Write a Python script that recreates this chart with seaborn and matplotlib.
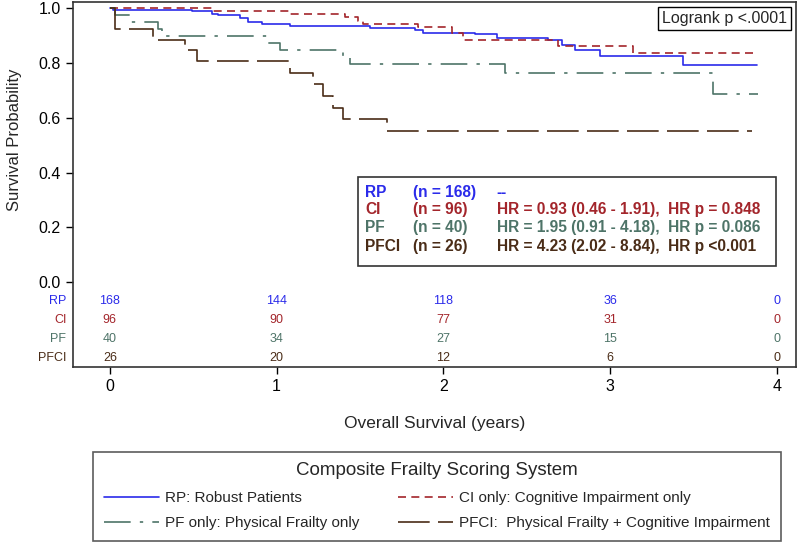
import numpy as np
import pandas as pd
import matplotlib
matplotlib.use('Agg')
import matplotlib.pyplot as plt
import seaborn as sns
from matplotlib.patches import Rectangle

sns.set_style('white')
plt.rcParams['font.family'] = ['Liberation Sans', 'DejaVu Sans']
NARROW = ['Liberation Sans Narrow', 'Liberation Sans', 'DejaVu Sans']

# Kaplan-Meier step curves (years, survival)
rp_t = [0, 0.02, 0.49, 0.61, 0.65, 0.78, 0.83, 0.91, 1.08, 1.56, 1.83, 1.88,
        2.19, 2.32, 2.63, 2.71, 2.79, 2.94, 3.44, 3.88]
rp_s = [1.0, 0.995, 0.989, 0.980, 0.974, 0.966, 0.948, 0.942, 0.936, 0.926,
        0.920, 0.911, 0.904, 0.893, 0.883, 0.867, 0.849, 0.825, 0.792, 0.792]

ci_t = [0, 0.61, 1.08, 1.41, 1.49, 1.52, 1.85, 2.05, 2.12, 2.69, 3.135, 3.86]
ci_s = [1.0, 0.989, 0.977, 0.969, 0.954, 0.942, 0.932, 0.908, 0.883, 0.861,
        0.835, 0.835]

pf_t = [0, 0.03, 0.13, 0.29, 0.31, 0.94, 1.02, 1.40, 1.44, 2.37, 3.62, 3.89]
pf_s = [1.0, 0.975, 0.95, 0.925, 0.90, 0.873, 0.848, 0.822, 0.795, 0.764,
        0.685, 0.685]

pfci_t = [0, 0.03, 0.26, 0.45, 0.52, 1.08, 1.22, 1.28, 1.34, 1.40, 1.66, 3.85]
pfci_s = [1.0, 0.923, 0.885, 0.846, 0.808, 0.765, 0.722, 0.679, 0.636, 0.597,
          0.551, 0.551]

groups = ['RP', 'CI', 'PF', 'PFCI']
legend_labels = ['RP: Robust Patients', 'CI only: Cognitive Impairment only',
                 'PF only: Physical Frailty only',
                 'PFCI:  Physical Frailty + Cognitive Impairment']
colors = ['#2B2BEA', '#A3252B', '#4E7468', '#4A2C17']

risk_times = [0, 1, 2, 3, 4]
at_risk = {'RP': [168, 144, 118, 36, 0],
           'CI': [96, 90, 77, 31, 0],
           'PF': [40, 34, 27, 15, 0],
           'PFCI': [26, 20, 12, 6, 0]}

n_txt = ['(n = 168)', '(n = 96)', '(n = 40)', '(n = 26)']
hr_txt = ['--', 'HR = 0.93 (0.46 - 1.91),  HR p = 0.848',
          'HR = 1.95 (0.91 - 4.18),  HR p = 0.086',
          'HR = 4.23 (2.02 - 8.84),  HR p <0.001']

curves = [(rp_t, rp_s), (ci_t, ci_s), (pf_t, pf_s), (pfci_t, pfci_s)]
styles = ['-', (0, (4.8, 3.2)), (0, (16, 5.5, 2, 5.5)), (0, (19, 5))]

fig = plt.figure(figsize=(8, 5.43), dpi=100)
ax = fig.add_axes([0.091, 0.324, 0.904, 0.672])

handles = []
for g, (t, s), c, ls in zip(groups, curves, colors, styles):
    df = pd.DataFrame({'t': t, 's': s})
    sns.lineplot(data=df, x='t', y='s', ax=ax, color=c, linestyle=ls,
                 drawstyle='steps-post', estimator=None, sort=False, lw=1.2)
    handles.append(ax.lines[-1])

ax.set_xlim(-0.222, 4.115)
ax.set_ylim(-0.31, 1.022)
ax.set_xticks(risk_times)
ax.set_yticks([0, 0.2, 0.4, 0.6, 0.8, 1.0])
ax.set_yticklabels(['0.0', '0.2', '0.4', '0.6', '0.8', '1.0'])
ax.tick_params(axis='both', direction='out', length=5, width=1, labelsize=11.5,
               left=True, bottom=True, colors='black')
for sp in ax.spines.values():
    sp.set_color('#333333')
    sp.set_linewidth(1.2)

ax.set_ylabel('Survival Probability', fontsize=12)
ax.yaxis.set_label_coords(-0.07, 0.622)
ax.set_xlabel('Overall Survival (years)', fontsize=12.5, family=NARROW)
ax.xaxis.set_label_coords(0.5, -0.135)

# number at risk table inside the axes
row_y = [-0.069, -0.139, -0.208, -0.277]
for g, c, y in zip(groups, colors, row_y):
    ax.text(-0.26, y, g, ha='right', va='center', color=c, fontsize=9,
            family=NARROW, clip_on=False)
    for x, n in zip(risk_times, at_risk[g]):
        ax.text(x, y, str(n), ha='center', va='center', color=c, fontsize=9,
                family=NARROW)

# hazard ratio box
ax.add_patch(Rectangle((1.488, 0.058), 2.507, 0.325, fill=False,
                       edgecolor='#333333', lw=1.2))
box_y = [0.328, 0.266, 0.201, 0.131]
for g, c, y, nt, ht in zip(groups, colors, box_y, n_txt, hr_txt):
    ax.text(1.53, y, g, color=c, fontsize=11.2, fontweight='bold', va='center')
    ax.text(1.818, y, nt, color=c, fontsize=11.2, fontweight='bold', va='center')
    ax.text(2.32, y, ht, color=c, fontsize=11.2, fontweight='bold', va='center')

ax.text(0.9875, 0.977, 'Logrank p <.0001', transform=ax.transAxes, ha='right',
        va='top', fontsize=11.5,
        bbox=dict(boxstyle='square,pad=0.25', fc='white', ec='black', lw=1))

order = [0, 2, 1, 3]
leg = fig.legend([handles[i] for i in order], [legend_labels[i] for i in order],
                 ncol=2, loc='lower left',
                 bbox_to_anchor=(93 / 800, 2 / 543, 688 / 800, 92 / 543),
                 mode='expand', title='Composite Frailty Scoring System',
                 prop={'family': NARROW, 'size': 11},
                 title_fontproperties={'family': NARROW, 'size': 13.5},
                 frameon=True, fancybox=False, edgecolor='#333333',
                 handlelength=3.6, handletextpad=0.4, borderaxespad=0,
                 borderpad=0.7, labelspacing=0.75, columnspacing=1.0)
leg.get_frame().set_linewidth(1.2)

fig.savefig('out.png', dpi=100)
